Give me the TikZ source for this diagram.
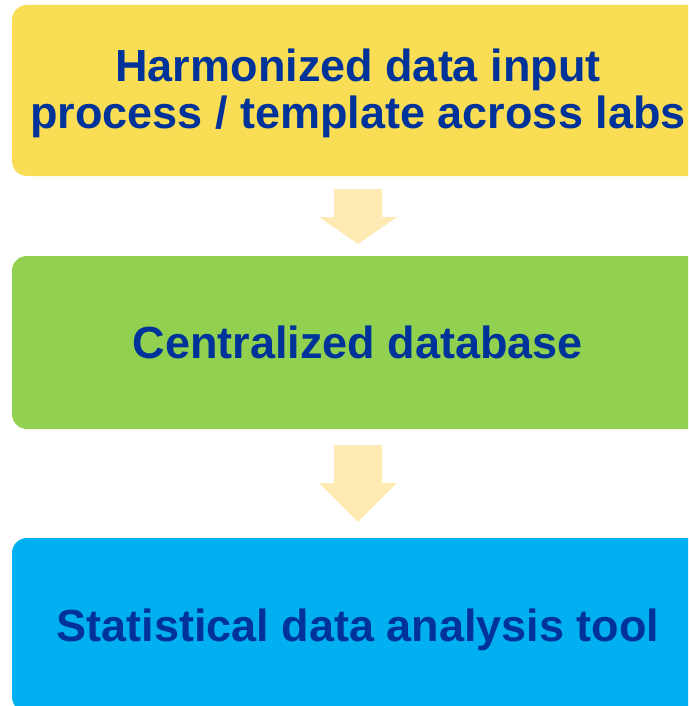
\documentclass[tikz,border=0pt]{standalone}
\usepackage{fontspec}
\setmainfont{Liberation Sans}
\definecolor{boxyellow}{HTML}{F9DD55}
\definecolor{boxgreen}{HTML}{92D050}
\definecolor{boxblue}{HTML}{00B0F0}
\definecolor{arrowfill}{HTML}{FEEBB4}
\definecolor{textblue}{HTML}{003399}
\tikzset{
  stagebox/.style={rectangle, rounded corners=15pt, minimum width=692pt, inner sep=0pt,
    text=textblue, font=\fontsize{45}{46.5}\selectfont\bfseries, align=center},
  blockarrow/.style={fill=arrowfill, draw=none}
}
\begin{document}
\begin{tikzpicture}[x=1pt,y=-1pt]
\useasboundingbox (0,0) rectangle (688,706);
\begin{scope}
\clip (0,0) rectangle (688,706);
\node[stagebox, fill=boxyellow, minimum height=171pt] (input) at (358,90.5)
  {\raisebox{-5pt}[\height][\depth]{\begin{tabular}{@{}c@{}}Harmonized data input\\[0.5pt]process / template across labs\end{tabular}}};
\node[stagebox, fill=boxgreen, minimum height=173pt] (db) at (358,342.5)
  {Centralized database};
\node[stagebox, fill=boxblue, minimum height=174pt] (tool) at (358,625)
  {\raisebox{-5pt}[\height][\depth]{Statistical data analysis tool}};
\end{scope}
\fill[blockarrow] (334,189) -- (382,189) -- (382,217) -- (397,217) -- (358,244)
  -- (319,217) -- (334,217) -- cycle;
\fill[blockarrow] (334,445) -- (382,445) -- (382,483) -- (397,483) -- (358,522)
  -- (319,483) -- (334,483) -- cycle;
\end{tikzpicture}
\end{document}
